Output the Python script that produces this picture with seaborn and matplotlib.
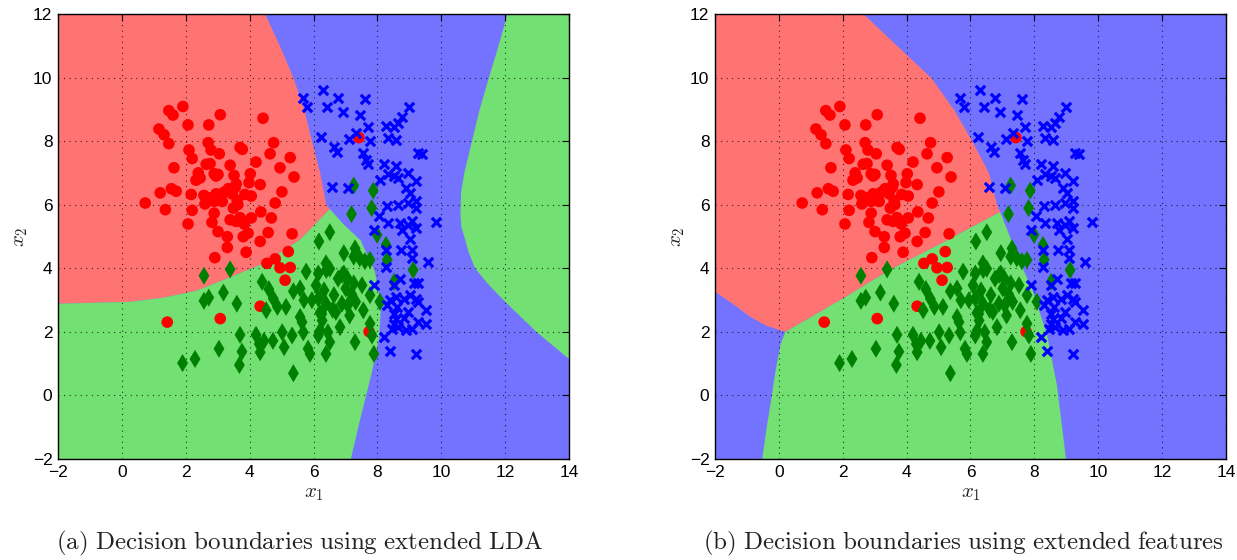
import numpy as np
import pandas as pd
import matplotlib
matplotlib.use("Agg")
import matplotlib.pyplot as plt
import seaborn as sns

sns.set_style("white")
plt.rcParams['font.family'] = ['Liberation Sans', 'DejaVu Sans']
plt.rcParams['mathtext.fontset'] = 'cm'

# ---------------- data: class samples ----------------
red_x = [0.73, 1.16, 1.32, 1.47, 1.60, 1.47, 1.63, 1.20, 1.55, 1.70, 1.36, 1.91, 2.07, 2.10, 2.20, 2.17, 2.20, 2.07,
         2.39, 2.32, 3.08, 2.72, 2.70, 2.79, 3.05, 2.64, 2.76, 2.89, 2.95, 3.01, 2.57, 2.60, 2.76, 2.89, 2.95, 3.10,
         3.14, 2.89, 2.82, 3.01, 2.91, 3.30, 3.30, 3.39, 3.51, 3.58, 3.33, 3.45, 3.61, 3.63, 3.49, 3.70, 3.77, 3.39,
         3.58, 3.74, 3.83, 3.80, 3.85, 4.02, 3.98, 4.05, 4.05, 3.95, 3.89, 4.20, 4.33, 4.35, 4.33, 4.42, 4.54, 4.68,
         4.58, 4.64, 4.75, 4.80, 4.95, 5.01, 5.27, 5.39, 5.33, 5.21, 4.80, 4.95, 5.27, 5.11, 4.33, 3.08, 1.42, 7.42,
         7.74, 3.20, 3.70, 2.45, 3.55]
red_y = [6.06, 8.39, 8.21, 8.97, 8.83, 7.93, 7.17, 6.38, 6.51, 6.43, 5.85, 9.10, 8.52, 7.73, 7.46, 6.33, 5.83, 5.40,
         7.01, 6.78, 8.84, 8.52, 7.96, 7.73, 7.61, 7.28, 7.30, 6.98, 6.91, 6.96, 6.30, 6.03, 6.22, 6.11, 6.35, 6.27,
         6.11, 5.74, 5.45, 5.16, 4.34, 5.00, 4.66, 7.25, 6.93, 6.66, 6.51, 6.35, 6.14, 6.01, 5.90, 7.81, 7.75, 5.53,
         5.48, 5.53, 5.40, 5.00, 6.33, 6.98, 6.70, 6.28, 5.59, 5.11, 4.51, 7.35, 6.64, 5.78, 4.85, 8.73, 4.16, 5.59,
         5.13, 7.61, 7.96, 6.06, 7.17, 6.41, 7.49, 6.88, 5.09, 4.53, 4.30, 4.02, 4.03, 3.63, 2.81, 2.42, 2.31, 8.12,
         2.01, 6.40, 5.60, 6.85, 6.55]

green_x = [2.57, 3.39, 2.57, 2.72, 3.18, 3.60, 3.70, 3.76, 3.68, 3.04, 2.29, 1.90, 4.20, 4.30, 4.33, 4.45, 4.39, 4.60,
           4.74, 4.87, 4.52, 4.73, 5.02, 5.08, 5.14, 5.37, 5.37, 5.33, 5.58, 5.64, 5.68, 5.58, 5.77, 5.83, 5.89, 5.70,
           6.08, 6.15, 6.15, 6.17, 6.27, 6.21, 6.15, 6.26, 6.33, 6.39, 6.39, 6.51, 6.51, 6.45, 6.51, 6.39, 6.64, 6.70,
           6.77, 6.83, 6.89, 6.95, 6.95, 7.01, 7.07, 7.13, 7.20, 7.26, 7.26, 7.30, 7.32, 7.30, 7.45, 7.52, 7.56, 7.61,
           7.77, 7.77, 7.77, 7.83, 7.89, 8.08, 7.99, 7.19, 7.82, 7.87, 7.26, 8.27, 8.31, 8.53, 9.12, 6.90, 7.05, 5.95,
           6.40, 6.20, 6.60]
green_y = [3.77, 3.97, 2.98, 3.08, 3.24, 2.89, 1.91, 1.38, 0.96, 1.47, 1.15, 1.02, 1.91, 1.62, 1.36, 1.72, 3.58, 3.35,
           3.05, 2.79, 2.68, 1.72, 1.99, 1.52, 2.79, 3.28, 0.70, 1.89, 2.47, 2.31, 1.99, 3.37, 3.90, 1.47, 1.31, 3.00,
           3.47, 3.05, 3.84, 4.85, 2.36, 2.05, 1.89, 2.57, 3.31, 4.16, 2.89, 5.14, 3.99, 1.99, 1.68, 1.31, 3.16, 2.63,
           3.68, 2.15, 2.89, 4.48, 3.84, 3.37, 2.84, 2.52, 3.18, 4.37, 3.53, 4.63, 2.95, 1.68, 4.32, 3.47, 2.68, 4.23,
           4.27, 3.16, 2.26, 1.89, 1.31, 2.95, 5.06, 5.71, 5.90, 6.45, 6.61, 4.74, 4.27, 3.58, 3.95, 3.80, 3.70, 3.00,
           3.95, 2.60, 2.70]

blue_x = [5.68, 5.80, 6.31, 6.43, 6.77, 6.92, 7.61, 7.46, 6.23, 6.65, 6.73, 7.12, 7.34, 7.71, 7.77, 7.56, 7.65, 7.72,
          8.28, 8.53, 8.65, 8.78, 8.99, 8.34, 8.59, 9.28, 9.41, 6.58, 7.08, 8.21, 8.34, 8.08, 8.53, 8.65, 8.59, 8.96,
          9.21, 8.90, 9.03, 8.31, 8.65, 8.96, 9.21, 9.21, 8.06, 8.34, 8.71, 8.78, 8.96, 9.09, 9.21, 9.82, 7.90, 8.27,
          9.03, 8.75, 9.09, 9.09, 9.59, 8.27, 7.90, 8.53, 8.71, 9.15, 9.28, 8.40, 8.59, 8.84, 9.03, 9.28, 9.20, 9.53,
          8.53, 8.59, 8.53, 8.65, 8.96, 8.90, 9.09, 9.28, 9.53, 8.21, 8.40, 9.21, 8.84, 8.30, 8.45, 8.60]
blue_y = [9.36, 9.07, 9.62, 9.09, 9.36, 8.94, 9.34, 8.84, 8.14, 7.81, 7.67, 8.09, 8.28, 8.44, 8.02, 7.65, 7.40, 7.30,
          8.49, 8.46, 8.57, 8.76, 9.09, 8.12, 8.04, 7.65, 7.59, 6.57, 6.54, 7.28, 6.96, 6.80, 6.91, 6.85, 7.22, 7.01,
          6.75, 6.54, 6.38, 5.96, 5.99, 6.06, 6.11, 5.90, 5.64, 5.43, 5.43, 5.22, 5.37, 5.48, 5.27, 5.45, 5.22, 4.58,
          4.93, 4.58, 4.58, 4.32, 4.19, 4.05, 3.47, 3.49, 3.68, 3.53, 3.53, 3.00, 3.10, 3.05, 3.16, 2.94, 3.05, 2.68,
          2.57, 2.42, 2.26, 2.15, 2.63, 2.05, 2.10, 2.31, 2.26, 1.84, 1.41, 1.31, 2.45, 2.85, 2.10, 2.80]

# ---------------- data: decision boundaries ----------------
# panel (a): extended LDA
a_rb_x = [4.49, 4.95, 5.37, 5.71, 5.95, 6.21, 6.40, 6.51]          # red / blue
a_rb_y = [12.0, 11.0, 10.0, 9.0, 8.0, 7.0, 6.0, 5.87]
a_rg_x = [6.51, 5.57, 4.90, 4.42, 3.38, 2.34, 1.30, 0.25, -2.0]    # red / green
a_rg_y = [5.87, 4.90, 4.45, 4.15, 3.72, 3.30, 3.08, 2.95, 2.89]
a_gb_x = [6.51, 6.96, 7.48, 7.92, 8.12, 8.05, 7.82, 7.46, 7.17]    # green / blue
a_gb_y = [5.87, 5.37, 4.88, 3.90, 2.85, 1.80, 0.70, -0.75, -2.0]
a_g2_x = [12.07, 11.79, 11.49, 11.20, 10.96, 10.72, 10.62, 10.60, 10.63, 10.72, 10.86, 11.06, 11.49, 12.0, 12.98, 14.0]
a_g2_y = [12.0, 11.0, 10.0, 9.0, 8.0, 7.0, 6.4, 5.7, 5.3, 5.0, 4.5, 4.0, 3.48, 2.95, 2.0, 1.15]

# panel (b): extended features
b_rb_x = [2.66, 3.71, 4.77, 5.48, 6.06, 6.58, 6.83, 6.93]          # red / blue (top)
b_rb_y = [12.0, 11.0, 10.0, 9.0, 8.0, 7.0, 6.0, 5.78]
b_rg_x = [6.93, 5.20, 3.50, 2.00, 0.20]                            # red / green
b_rg_y = [5.78, 4.85, 3.97, 3.05, 2.00]
b_rbl_x = [0.20, -0.40, -0.90, -1.31, -2.0]                        # red / blue (left)
b_rbl_y = [2.00, 2.20, 2.48, 2.79, 3.27]
b_gbl_x = [0.20, 0.05, -0.10, -0.22, -0.38, -0.52]                 # green / blue (left)
b_gbl_y = [2.00, 1.60, 0.80, 0.00, -1.00, -2.0]
b_gbr_x = [6.93, 7.46, 7.96, 8.40, 8.71, 8.99]                     # green / blue (right)
b_gbr_y = [5.78, 4.42, 3.26, 1.89, 0.30, -2.0]

xticks = [-2, 0, 2, 4, 6, 8, 10, 12, 14]
yticks = [-2, 0, 2, 4, 6, 8, 10, 12]
captions = ["(a) Decision boundaries using extended LDA",
            "(b) Decision boundaries using extended features"]

C_RED_R, C_GRN_R, C_BLU_R = "#FF7373", "#72E072", "#7373FF"
C_RED, C_GRN, C_BLU = "#FF0000", "#008000", "#0000FF"

fig = plt.figure(figsize=(12.37, 5.6), dpi=100)
ax1 = fig.add_axes([0.0469, 0.1804, 0.4131, 0.7939])
ax2 = fig.add_axes([0.578, 0.1804, 0.4131, 0.7939])


def poly(*pairs):
    xs, ys = [], []
    for px, py in pairs:
        xs += list(px)
        ys += list(py)
    return xs, ys


# regions panel (a)
ax1.set_facecolor(C_BLU_R)
xs, ys = poly(([-2.0], [12.0]), (a_rb_x, a_rb_y), (a_rg_x, a_rg_y))
ax1.fill(xs, ys, color=C_RED_R, lw=0, zorder=0.2)
xs, ys = poly((a_gb_x, a_gb_y), ([-2.0], [-2.0]), (a_rg_x[::-1], a_rg_y[::-1]))
ax1.fill(xs, ys, color=C_GRN_R, lw=0, zorder=0.2)
xs, ys = poly((a_g2_x, a_g2_y), ([14.0], [12.0]))
ax1.fill(xs, ys, color=C_GRN_R, lw=0, zorder=0.2)

# regions panel (b)
ax2.set_facecolor(C_BLU_R)
xs, ys = poly(([-2.0], [12.0]), (b_rb_x, b_rb_y), (b_rg_x, b_rg_y), (b_rbl_x, b_rbl_y))
ax2.fill(xs, ys, color=C_RED_R, lw=0, zorder=0.2)
xs, ys = poly((b_rg_x[::-1], b_rg_y[::-1]), (b_gbr_x, b_gbr_y), (b_gbl_x[::-1], b_gbl_y[::-1]))
ax2.fill(xs, ys, color=C_GRN_R, lw=0, zorder=0.2)

for ax, cap, cx in [(ax1, captions[0], 0.2425), (ax2, captions[1], 0.7785)]:
    sns.scatterplot(x=red_x, y=red_y, ax=ax, marker='o', color=C_RED, s=70, edgecolor='none', zorder=3)
    sns.scatterplot(x=green_x, y=green_y, ax=ax, marker='d', color=C_GRN, s=85, edgecolor='none', zorder=3)
    sns.scatterplot(x=blue_x, y=blue_y, ax=ax, marker='x', color=C_BLU, s=45, linewidth=2.3, zorder=3)
    ax.set_xlim(-2, 14)
    ax.set_ylim(-2, 12)
    ax.set_xticks(xticks)
    ax.set_yticks(yticks)
    ax.set_axisbelow('line')
    ax.grid(True, color='black', linestyle=(0, (1, 4)), linewidth=0.8, alpha=0.75)
    ax.tick_params(direction='in', top=True, right=True, length=5, width=0.8,
                   labelsize=12.5, pad=4, colors='black')
    for sp in ax.spines.values():
        sp.set_visible(True)
        sp.set_color('black')
        sp.set_linewidth(1.0)
    ax.set_xlabel(r'$x_1$', fontsize=15, labelpad=3, color='#222222')
    ax.set_ylabel(r'$x_2$', fontsize=15, labelpad=2, color='#222222')
    fig.text(cx, 0.03, r'$\mathrm{' + cap.replace(' ', r'\ ') + '}$',
             ha='center', va='center', fontsize=18, color='#222222')

fig.savefig('out.png', dpi=100)
